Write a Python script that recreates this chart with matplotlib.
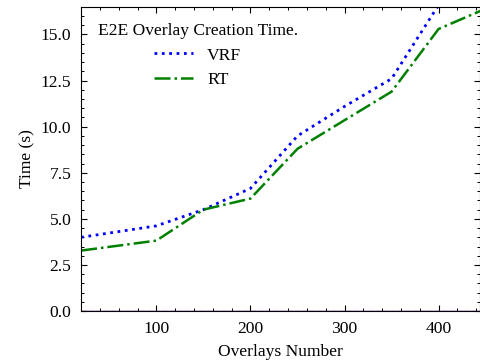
import numpy as np
import matplotlib
matplotlib.use("Agg")
import matplotlib.pyplot as plt
from matplotlib.ticker import MultipleLocator

# Data
overlays = [20, 100, 150, 200, 250, 300, 350, 400, 450]
vrf_time = [4.0, 4.62, 5.5, 6.65, 9.5, 11.1, 12.6, 16.6, 17.4]
rt_time = [3.28, 3.82, 5.5, 6.1, 8.8, 10.35, 11.9, 15.3, 16.4]
zero_line = [0, 0, 0, 0, 0, 0, 0, 0, 0]

plt.rcParams['font.family'] = ['Liberation Serif', 'DejaVu Serif']
plt.rcParams['font.size'] = 12.6
plt.rcParams['mathtext.fontset'] = 'stix'

fig = plt.figure(figsize=(4.8, 3.6), dpi=100)
ax = fig.add_axes([0.169, 0.136, 0.831, 0.845])

ax.plot(overlays, zero_line, color='blue', lw=1.0)
ax.plot(overlays, zero_line, color='#e0502a', lw=1.0, ls='--')
ax.plot(overlays, vrf_time, color='blue', ls=':', lw=2.0, label='VRF')
ax.plot(overlays, rt_time, color='green', ls='-.', lw=1.8, label='RT')

ax.set_xlim(20, 444)
ax.set_ylim(0, 16.5)
ax.xaxis.set_major_locator(MultipleLocator(100))
ax.xaxis.set_minor_locator(MultipleLocator(20))
ax.yaxis.set_major_locator(MultipleLocator(2.5))
ax.yaxis.set_minor_locator(MultipleLocator(0.5))
ax.yaxis.set_major_formatter(matplotlib.ticker.FormatStrFormatter('%.1f'))
ax.tick_params(which='both', direction='in', top=True, right=True, labelsize=12.6)
ax.tick_params(which='major', length=4.5, width=0.8)
ax.tick_params(axis='y', which='major', pad=7)
ax.tick_params(axis='x', which='major', pad=7)
ax.tick_params(which='minor', length=2.3, width=0.7)
for s in ax.spines.values():
    s.set_linewidth(0.8)

ax.set_xlabel('Overlays Number', fontsize=12.6, labelpad=5)
ax.set_ylabel('Time (s)', fontsize=12.6, labelpad=4)

leg = ax.legend(title='E2E Overlay Creation Time.', loc='upper left', frameon=False,
                fontsize=12.6, title_fontsize=12.6, handlelength=2.2,
                borderaxespad=0.55, labelspacing=0.45)

fig.savefig('out.png', dpi=100)
